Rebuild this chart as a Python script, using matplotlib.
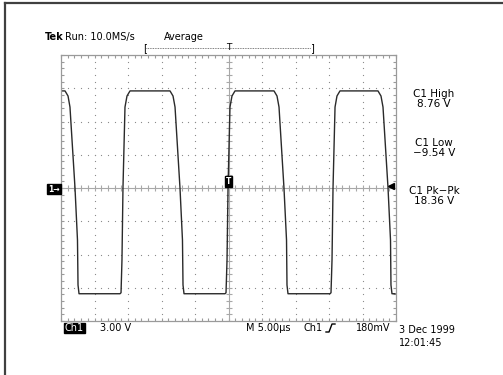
import numpy as np
import matplotlib.pyplot as plt
from matplotlib.lines import Line2D
from matplotlib.ticker import MultipleLocator

# Channel 1 trace, time in microseconds (trigger at 0), voltage in volts
trace_t = [-25.0, -24.40, -23.95, -23.66, -22.91, -22.54, -22.46, -22.31,
           -16.19, -16.04, -15.90, -15.75, -15.45, -15.15, -14.70,
           -8.73, -8.28, -7.98, -7.24, -6.87, -6.79, -6.64,
           -0.52, -0.37, -0.22, -0.07, 0.22, 0.52, 0.97,
           6.79, 7.24, 7.54, 8.28, 8.66, 8.73, 8.88,
           15.15, 15.30, 15.45, 15.60, 15.90, 16.19, 16.64,
           22.31, 22.76, 23.06, 23.81, 24.18, 24.25, 24.40, 24.85]
trace_v = [8.76, 8.76, 8.30, 7.30, 0.0, -4.70, -8.75, -9.54,
           -9.54, -9.45, -6.50, 0.0, 7.30, 8.30, 8.76,
           8.76, 8.30, 7.30, 0.0, -4.70, -8.75, -9.54,
           -9.54, -9.45, -6.50, 0.0, 7.30, 8.30, 8.76,
           8.76, 8.30, 7.30, 0.0, -4.70, -8.75, -9.54,
           -9.54, -9.45, -6.50, 0.0, 7.30, 8.30, 8.76,
           8.76, 8.30, 7.30, 0.0, -4.70, -8.75, -9.54, -9.54]

# Scope settings
volts_per_div = 3.0
us_per_div = 5.0
trig_level = 0.18

# Measurements
meas_names = ['C1 High', 'C1 Low', 'C1 Pk\u2212Pk']
meas_values = ['8.76 V', '\u22129.54 V', '18.36 V']

W, H = 503, 375


def px(x, y):
    # pixel position -> figure fraction
    return x / W, 1 - y / H


fig = plt.figure(figsize=(W / 100, H / 100), dpi=100)
fig.patch.set_facecolor('white')

# Graticule: 10 x 8 divisions
ax = fig.add_axes([61 / W, 1 - 321 / H, 335 / W, 266 / H])
ax.set_xlim(-5 * us_per_div, 5 * us_per_div)
ax.set_ylim(-4 * volts_per_div, 4 * volts_per_div)

grid_col = '#8c8c8c'
for s in ax.spines.values():
    s.set_color('#9a9a9a')
    s.set_linewidth(0.9)
ax.xaxis.set_major_locator(MultipleLocator(us_per_div))
ax.xaxis.set_minor_locator(MultipleLocator(us_per_div / 5))
ax.yaxis.set_major_locator(MultipleLocator(volts_per_div))
ax.yaxis.set_minor_locator(MultipleLocator(volts_per_div / 5))
ax.tick_params(which='both', direction='in', length=2.5, width=0.8,
               color='#9a9a9a', top=True, right=True,
               labelbottom=False, labelleft=False)

# dotted division lines
minor_t = np.arange(-25, 25.01, us_per_div / 5)
minor_v = np.arange(-12, 12.01, volts_per_div / 5)
for t in np.arange(-20, 20.01, us_per_div):
    if abs(t) < 1e-9:
        continue
    ax.plot(np.full_like(minor_v, t), minor_v, ls='none', marker='s',
            ms=0.8, mew=0, color=grid_col)
for v in np.arange(-9, 9.01, volts_per_div):
    if abs(v) < 1e-9:
        continue
    ax.plot(minor_t, np.full_like(minor_t, v), ls='none', marker='s',
            ms=0.8, mew=0, color=grid_col)

# centre cross with minor ticks
ax.axhline(0, color='#a8a8a8', lw=0.8)
ax.axvline(0, color='#a8a8a8', lw=0.8)
ax.plot(minor_t, np.zeros_like(minor_t), ls='none', marker='|', ms=4,
        mew=0.8, color='#a8a8a8')
ax.plot(np.zeros_like(minor_v), minor_v, ls='none', marker='_', ms=4,
        mew=0.8, color='#a8a8a8')

# waveform
ax.plot(trace_t, trace_v, color='#2a2a2a', lw=1.0, solid_joinstyle='round')

# trigger markers
ax.text(0, trig_level, 'T', color='white', fontsize=5.5, fontweight='bold',
        ha='center', va='bottom',
        bbox=dict(boxstyle='square,pad=0.15', fc='black', ec='black'))
ax.plot([24.2], [trig_level], marker='<', ms=4, color='black')

# outer frame: top and left edges
fig.add_artist(Line2D([px(5, 3)[0], 1], [px(5, 3)[1]] * 2,
                      color='#404040', lw=1.6))
fig.add_artist(Line2D([px(5, 3)[0]] * 2, [px(5, 3)[1], 0],
                      color='#404040', lw=1.6))

# header
fig.text(*px(45, 37), 'Tek', fontsize=7, fontweight='bold', va='center')
fig.text(*px(65, 37), 'Run: 10.0MS/s', fontsize=7, va='center')
fig.text(*px(164, 37), 'Average', fontsize=7, va='center')

# record position bracket
fig.add_artist(Line2D([px(146, 48)[0], px(311, 48)[0]], [px(146, 48)[1]] * 2,
                      color='#555555', lw=0.6, ls=(0, (1, 1))))
fig.text(*px(145, 48), '[', fontsize=7, ha='center', va='center')
fig.text(*px(312, 48), ']', fontsize=7, ha='center', va='center')
fig.text(*px(228.5, 47), 'T', fontsize=6.5, ha='center', va='center')

# ground reference marker
fig.text(*px(54, 189), '1\u2192', color='white', fontsize=5.5,
         fontweight='bold', ha='center', va='center',
         bbox=dict(boxstyle='square,pad=0.1', fc='black', ec='black'))

# measurement readouts
for i, (name, val) in enumerate(zip(meas_names, meas_values)):
    y0 = 94 + 48.5 * i
    fig.text(*px(434, y0), name, fontsize=7.5, ha='center', va='center')
    fig.text(*px(434, y0 + 10), val, fontsize=7.5, ha='center', va='center')

# bottom status line
fig.text(*px(74.5, 328), 'Ch1', color='white', fontsize=7, ha='center',
         va='center',
         bbox=dict(boxstyle='square,pad=0.05', fc='black', ec='black'))
fig.text(*px(100, 328), '3.00 V', fontsize=7, va='center')
fig.text(*px(246, 328), 'M 5.00\u00b5s', fontsize=7, va='center')
fig.text(*px(303, 328), 'Ch1', fontsize=7, va='center')
fig.add_artist(Line2D([px(326, 0)[0], px(329, 0)[0], px(332, 0)[0], px(335, 0)[0]],
                      [px(0, 332)[1], px(0, 332)[1], px(0, 324)[1], px(0, 324)[1]],
                      color='black', lw=1.0))
fig.text(*px(356, 328), '180mV', fontsize=7, va='center')
fig.text(*px(399, 330), '3 Dec 1999', fontsize=7, va='center')
fig.text(*px(399, 343), '12:01:45', fontsize=7, va='center')

fig.savefig('out.png', dpi=100)
